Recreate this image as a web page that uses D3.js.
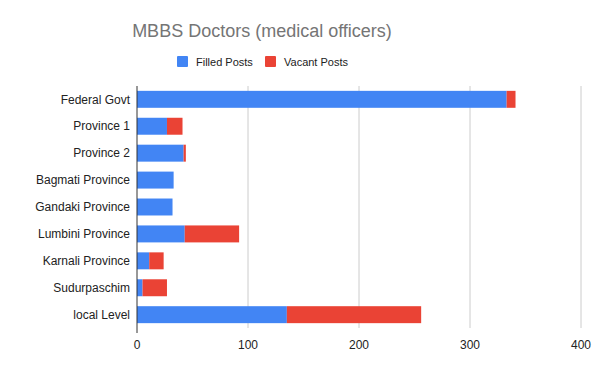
<!DOCTYPE html>
<html>
<head>
<meta charset="utf-8">
<script src="https://cdn.jsdelivr.net/npm/d3@7"></script>
<style>
  body { margin: 0; background: #fff; }
  text { font-family: "Liberation Sans", Arial, sans-serif; }
</style>
</head>
<body>
<script>
const categories = ['Federal Govt', 'Province 1', 'Province 2', 'Bagmati Province',
  'Gandaki Province', 'Lumbini Province', 'Karnali Province', 'Sudurpaschim', 'local Level'];
const filledPosts = [333, 27, 42, 33, 32, 43, 11, 5, 135];
const vacantPosts = [8, 14, 2, 0, 0, 49, 13, 22, 121];
const seriesNames = ['Filled Posts', 'Vacant Posts'];
const seriesColors = ['#4285f4', '#ea4335'];
const xTicks = [0, 100, 200, 300, 400];

const width = 600;
const height = 371;
const margin = { top: 86, right: 18, bottom: 43, left: 137 };

const svg = d3.select('body').append('svg')
  .attr('width', width)
  .attr('height', height);

const x = d3.scaleLinear()
  .domain([0, 400])
  .range([margin.left, margin.left + 444]);

const y = d3.scaleBand()
  .domain(categories)
  .range([margin.top, height - margin.bottom])
  .paddingInner(0.37)
  .paddingOuter(0.18);

// gridlines
svg.append('g')
  .selectAll('line')
  .data(xTicks.slice(1))
  .enter()
  .append('line')
  .attr('x1', d => x(d))
  .attr('x2', d => x(d))
  .attr('y1', margin.top)
  .attr('y2', height - margin.bottom)
  .attr('stroke', '#cccccc')
  .attr('stroke-width', 1);

const rows = categories.map((c, i) => ({ cat: c, filled: filledPosts[i], vacant: vacantPosts[i] }));
const stacked = d3.stack().keys(['filled', 'vacant'])(rows);

svg.append('g')
  .selectAll('g')
  .data(stacked)
  .enter()
  .append('g')
  .attr('fill', (d, i) => seriesColors[i])
  .selectAll('rect')
  .data(d => d)
  .enter()
  .append('rect')
  .attr('x', d => x(d[0]))
  .attr('width', d => x(d[1]) - x(d[0]))
  .attr('y', d => y(d.data.cat))
  .attr('height', y.bandwidth());

// zero axis line
svg.append('line')
  .attr('x1', x(0))
  .attr('x2', x(0))
  .attr('y1', margin.top)
  .attr('y2', height - margin.bottom + 5)
  .attr('stroke', '#333333')
  .attr('stroke-width', 1);

// x tick labels
svg.append('g')
  .selectAll('text')
  .data(xTicks)
  .enter()
  .append('text')
  .attr('x', d => x(d))
  .attr('y', 349)
  .attr('text-anchor', 'middle')
  .attr('font-size', 12)
  .attr('fill', '#222222')
  .text(d => d);

// category labels
svg.append('g')
  .selectAll('text')
  .data(categories)
  .enter()
  .append('text')
  .attr('x', margin.left - 7)
  .attr('y', d => y(d) + y.bandwidth() / 2)
  .attr('dy', '0.35em')
  .attr('text-anchor', 'end')
  .attr('font-size', 12)
  .attr('fill', '#222222')
  .text(d => d);

// title
svg.append('text')
  .attr('x', 262)
  .attr('y', 37)
  .attr('text-anchor', 'middle')
  .attr('font-size', 18)
  .attr('fill', '#757575')
  .text('MBBS Doctors (medical officers)');

// legend
const legendX = [177, 265];
const legend = svg.append('g')
  .selectAll('g')
  .data(seriesNames)
  .enter()
  .append('g')
  .attr('transform', (d, i) => `translate(${legendX[i]},56)`);

legend.append('rect')
  .attr('width', 11)
  .attr('height', 11)
  .attr('rx', 1)
  .attr('fill', (d, i) => seriesColors[i]);

legend.append('text')
  .attr('x', 19)
  .attr('y', 10)
  .attr('font-size', 11)
  .attr('fill', '#222222')
  .text(d => d);
</script>
</body>
</html>
